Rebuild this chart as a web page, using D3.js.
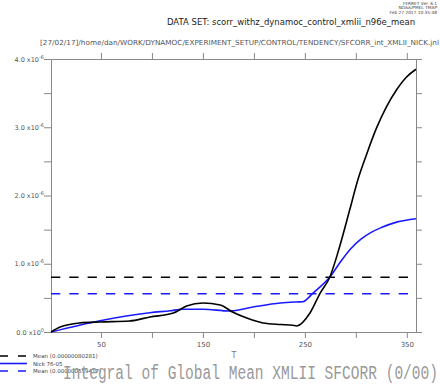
<!DOCTYPE html>
<html><head><meta charset="utf-8">
<script src="https://cdn.jsdelivr.net/npm/d3@7"></script>
<style>body{margin:0;background:#fff}svg{display:block}</style>
</head><body><svg id="c" width="440" height="384"></svg>
<script>
// Values in units of 1e-6
const blackT = [1,10,29,49,78,98,121,134,150,167,179,193,209,226,238,242,255,265,274.5,284,294,302,310,320,330,340,350,359];
const blackV = [0,0.073,0.132,0.147,0.161,0.22,0.278,0.38,0.425,0.396,0.293,0.205,0.132,0.11,0.10,0.088,0.278,0.571,0.806,1.245,1.79,2.23,2.58,2.98,3.30,3.55,3.74,3.85];
const blueT = [1,49,98,118,130,150,176,199,226,242,248,258,274.5,285,295,305,315,325,340,359];
const blueV = [0,0.166,0.283,0.312,0.333,0.333,0.308,0.366,0.425,0.44,0.444,0.571,0.806,1.03,1.22,1.36,1.46,1.53,1.61,1.66];
const meanBlack = 0.80281;
const meanBlue = 0.559417;
const xTicks = [50,100,150,200,250,300,350];
const xLabels = [50,150,250,350];
const yTicks = [0,0.5,1,1.5,2,2.5,3,3.5,4];
const yLabels = [{v:0,m:"0.0",e:"0"},{v:1,m:"1.0",e:"-6"},{v:2,m:"2.0",e:"-6"},{v:3,m:"3.0",e:"-6"},{v:4,m:"4.0",e:"-6"}];
const legend = [
  {label:"Mean (0.00000080281)", color:"#000", dash:"8,10"},
  {label:"Nick 76-05", color:"#1a1aff", dash:null},
  {label:"Mean (0.000000559417)", color:"#1a1aff", dash:"8,10"}
];

(function(){
const svg = d3.select("#c");
const x = d3.scaleLinear().domain([1,359]).range([51,416]);
const y = d3.scaleLinear().domain([0,4]).range([332,59]);
const font = "'DejaVu Sans', sans-serif";
const axCol = "#888";

// header
svg.append("text").attr("x",415).attr("y",25).attr("text-anchor","end")
  .attr("font-family",font).attr("font-size",9).attr("fill","#222")
  .attr("textLength",248).attr("lengthAdjust","spacingAndGlyphs")
  .text("DATA SET: scorr_withz_dynamoc_control_xmlii_n96e_mean");
svg.append("text").attr("x",40).attr("y",45)
  .attr("font-family",font).attr("font-size",7).attr("fill","#555")
  .attr("textLength",399).attr("lengthAdjust","spacingAndGlyphs")
  .text("[27/02/17]/home/dan/WORK/DYNAMOC/EXPERIMENT_SETUP/CONTROL/TENDENCY/SFCORR_int_XMLII_NICK.jnl");
const stamp = ["FERRET Ver. 6.1","NOAA/PMEL TMAP","Feb 27 2017 10:35:48"];
svg.selectAll("text.st").data(stamp).join("text").attr("class","st")
  .attr("x",437).attr("y",(d,i)=>5+i*4.3).attr("text-anchor","end")
  .attr("font-family",font).attr("font-size",4.3).attr("fill","#444").text(d=>d);

// axes
const gB = svg.append("g").attr("transform","translate(0,332)")
  .call(d3.axisBottom(x).tickValues(xTicks).tickSize(6).tickSizeOuter(0).tickFormat(d=>xLabels.includes(d)?d:""));
const gT = svg.append("g").attr("transform","translate(0,59)")
  .call(d3.axisTop(x).tickValues(xTicks).tickSize(6).tickSizeOuter(0).tickFormat(""));
const gL = svg.append("g").attr("transform","translate(51,0)")
  .call(d3.axisLeft(y).tickValues(yTicks).tickSize(7).tickSizeOuter(0).tickFormat(""));
const gR = svg.append("g").attr("transform","translate(416,0)")
  .call(d3.axisRight(y).tickValues(yTicks).tickSize(6).tickSizeOuter(0).tickFormat(""));
[gB,gT,gL,gR].forEach(g=>{
  g.selectAll("path.domain").attr("stroke",axCol);
  g.selectAll(".tick line").attr("stroke",axCol);
  g.selectAll(".tick text").attr("font-family",font).attr("font-size",7).attr("fill","#555");
});
gB.selectAll(".tick text").attr("y",10);

// y labels
const yl = svg.selectAll("text.yl").data(yLabels).join("text").attr("class","yl")
  .attr("x",44).attr("y",d=>y(d.v)+2.5).attr("text-anchor","end")
  .attr("font-family",font).attr("font-size",6.5).attr("fill","#555");
yl.append("tspan").text(d=>d.m+" x10");
yl.append("tspan").attr("dy",-3).attr("font-size",5).text(d=>d.e);

svg.append("text").attr("x",234).attr("y",358).attr("text-anchor","middle")
  .attr("font-family",font).attr("font-size",8).attr("fill","#777").text("T");

// mean lines
svg.append("line").attr("x1",x(1)).attr("x2",x(359)).attr("y1",y(meanBlack)).attr("y2",y(meanBlack))
  .attr("stroke","#000").attr("stroke-width",1.6).attr("stroke-dasharray","9.3,9");
svg.append("line").attr("x1",x(1)).attr("x2",x(359)).attr("y1",y(meanBlue)).attr("y2",y(meanBlue))
  .attr("stroke","#1a1aff").attr("stroke-width",1.6).attr("stroke-dasharray","9.3,9");

const line = d3.line().x(d=>x(d[0])).y(d=>y(d[1])).curve(d3.curveMonotoneX);
svg.append("path").datum(d3.zip(blueT,blueV)).attr("d",line)
  .attr("fill","none").attr("stroke","#1a1aff").attr("stroke-width",1.6);
svg.append("path").datum(d3.zip(blackT,blackV)).attr("d",line)
  .attr("fill","none").attr("stroke","#000").attr("stroke-width",1.6);

// legend
const lg = svg.selectAll("g.lg").data(legend).join("g").attr("class","lg")
  .attr("transform",(d,i)=>`translate(0,${356+i*7.5})`);
lg.append("line").attr("x1",0).attr("x2",27).attr("y1",0).attr("y2",0)
  .attr("stroke",d=>d.color).attr("stroke-width",1.6).attr("stroke-dasharray",d=>d.dash);
lg.append("text").attr("x",33).attr("y",2).attr("font-family",font).attr("font-size",5.5)
  .attr("fill","#444").text(d=>d.label);

// title
svg.append("text").attr("x",63).attr("y",379)
  .attr("font-family","'Liberation Mono', monospace").attr("font-size",20).attr("fill","#999")
  .attr("textLength",375).attr("lengthAdjust","spacingAndGlyphs")
  .text("Integral of Global Mean XMLII SFCORR (0/00)");
})();
</script></body></html>
